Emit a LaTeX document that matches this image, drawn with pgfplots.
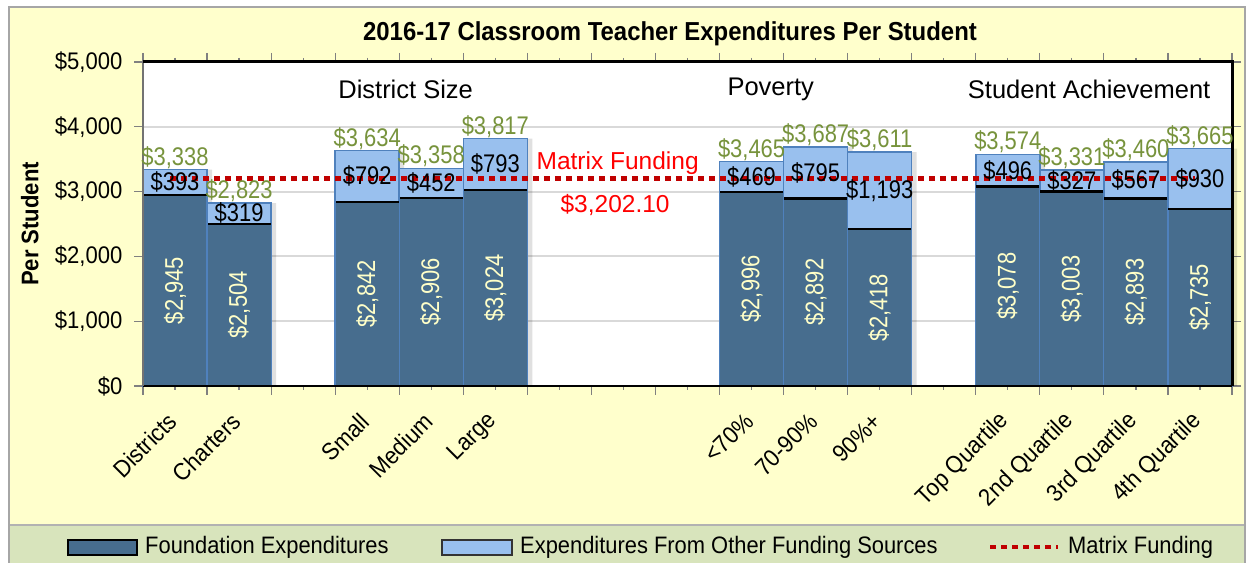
\documentclass[border=0pt]{standalone}
\usepackage{fontspec}
\setmainfont{Liberation Sans}[FakeStretch=0.92]
\newfontfamily\wide{Liberation Sans}
\newfontfamily\narrow{Liberation Sans}[FakeStretch=0.86]
\usepackage{pgfplots}
\pgfplotsset{compat=1.18}
\usepackage{pgfplotstable}

\definecolor{bgy}{HTML}{FFFFCC}
\definecolor{legbg}{HTML}{D8E4BC}
\definecolor{darkb}{HTML}{476D8E}
\definecolor{lightb}{HTML}{99C0EE}
\definecolor{edgeb}{HTML}{4F81BD}
\definecolor{grn}{HTML}{77933C}
\definecolor{mred}{HTML}{C00000}
\definecolor{lred}{HTML}{FF0000}
\definecolor{cream}{HTML}{FFFFC8}

\pgfplotstableread{
x found other total
0 2945 393 3338
1 2504 319 2823
3 2842 792 3634
4 2906 452 3358
5 3024 793 3817
9 2996 469 3465
10 2892 795 3687
11 2418 1193 3611
13 3078 496 3574
14 3003 327 3331
15 2893 567 3460
16 2735 930 3665
}\data

\newcommand{\fs}{\fontsize{24}{27}\selectfont}
\newcommand{\ns}{\narrow\fontsize{25.5}{29}\selectfont}
\newcommand{\gs}{\wide\fontsize{25.5}{29}\selectfont}

\begin{document}
\begin{tikzpicture}[x=1pt,y=1pt]
% page and chart background
\fill[white] (0,0) rectangle (1249,563);
\fill[bgy] (9,0) rectangle (1245,556);
\fill[legbg] (9,0) rectangle (1245,38);
\draw[black!30, line width=1.5pt] (9,38) -- (1245,38);
\draw[black!35, line width=1.5pt] (9,0) -- (9,556) -- (1245,556) -- (1245,0);
% title
\node[font=\fontsize{26}{30}\selectfont\bfseries] at (670,529) {2016-17 Classroom Teacher Expenditures Per Student};

\begin{axis}[
  at={(143pt,177pt)}, anchor=south west,
  scale only axis, width=1089pt, height=324pt,
  xmin=-0.5, xmax=16.5, ymin=0, ymax=5000,
  clip=false,
  axis line style={draw=none},
  axis background/.style={fill=white},
  tick align=outside,
  xtick={-0.5,0.5,...,16.5}, xticklabels={},
  minor x tick num=1,
  major tick length=8pt, minor tick length=4pt,
  x tick style={black!50, line width=1.2pt},
  extra x ticks={0,1,3,4,5,9,10,11,13,14,15,16},
  extra x tick labels={Districts,Charters,Small,Medium,Large,{<70\%},{70-90\%},{90\%+},Top Quartile,2nd Quartile,3rd Quartile,4th Quartile},
  extra x tick style={major tick length=4pt, tick style={black!50, line width=1.2pt}},
  xticklabel style={font=\fs, xshift=0pt, yshift=-25pt, rotate=45, anchor=east},
  ytick={0,1000,2000,3000,4000,5000},
  yticklabels={\$0,{\$1,000},{\$2,000},{\$3,000},{\$4,000},{\$5,000}},
  y tick style={black!50, line width=1.2pt},
  major tick length=9pt,
  yticklabel style={font=\fs, xshift=-8pt},
  ymajorgrids, grid style={black!15, line width=2pt},
  ylabel={Per Student},
  every axis y label/.style={at={(axis description cs:-0.104,0.5)}, rotate=90, anchor=center, font=\fs\bfseries},
  /pgf/number format/.cd, assume math mode=true, fixed, precision=0, 1000 sep={,},
]
% soft shadow behind the bars
\addplot[ybar, bar width=1, bar shift=5pt, fill=black, fill opacity=0.12, draw=none]
  table[x=x, y=total] {\data};
% total (light) bars, then foundation (dark) bars on top
\addplot[ybar, bar width=1, bar shift=0pt, fill=lightb, draw=edgeb, line width=1.5pt]
  table[x=x, y=total] {\data};
\addplot[ybar, bar width=1, bar shift=0pt, fill=darkb, draw=edgeb, line width=1.2pt]
  table[x=x, y=found] {\data};
% black line at top of foundation segment
\addplot[only marks, mark=-, mark size=31.5pt, mark options={black, line width=2.2pt}]
  table[x=x, y=found] {\data};
% baseline
\draw[black, line width=2pt] (rel axis cs:0,0) -- (rel axis cs:1,0);
% plot frame
\draw[black!55, line width=2pt] (rel axis cs:0,0) -- (rel axis cs:0,1);
\draw[black, line width=3pt] (rel axis cs:0,1) -- (rel axis cs:1,1) -- (rel axis cs:1,0);
% matrix funding
\addplot[mred, line width=4.5pt, dash pattern=on 6pt off 5pt] coordinates {(-0.08,3202.1) (15.92,3202.1)};
% labels: foundation (inside, rotated)
\addplot[draw=none, mark=none, point meta=explicit,
  nodes near coords={\$\pgfmathprintnumber{\pgfplotspointmeta}},
  every node near coord/.append style={anchor=center, rotate=90, text=cream, font=\ns}]
  table[x=x, y expr=\thisrow{found}/2, meta=found] {\data};
% labels: other sources (inside light segment)
\addplot[draw=none, mark=none, point meta=explicit,
  nodes near coords={\$\pgfmathprintnumber{\pgfplotspointmeta}},
  every node near coord/.append style={anchor=center, text=black, font=\ns}]
  table[x=x, y expr=\thisrow{found}+\thisrow{other}/2, meta=other] {\data};
% labels: totals
\addplot[draw=none, mark=none, point meta=explicit,
  nodes near coords={\$\pgfmathprintnumber{\pgfplotspointmeta}},
  every node near coord/.append style={anchor=south, inner sep=1pt, text=grn, font=\ns}]
  table[x=x, y=total, meta=total] {\data};
% group and line labels
\node[font=\gs] at (axis cs:3.6,4585) {District Size};
\node[font=\gs] at (axis cs:9.3,4585) {Poverty};
\node[font=\gs] at (axis cs:14.27,4585) {Student Achievement};
\node[font=\wide\fontsize{24.5}{28}\selectfont, text=lred] at (axis cs:6.91,3441) {Matrix Funding};
\node[font=\wide\fontsize{24.5}{28}\selectfont, text=lred] at (axis cs:6.87,2793) {\$3,202.10};
\end{axis}

% legend
\draw[black, line width=2pt, fill=darkb] (68,8) rectangle (137,23);
\node[anchor=west, inner sep=0pt, font=\fontsize{23.8}{27}\selectfont] at (145,16) {Foundation Expenditures};
\draw[black!80, line width=1.5pt, fill=lightb] (442,8) rectangle (512,23);
\node[anchor=west, inner sep=0pt, font=\fontsize{23.8}{27}\selectfont] at (520,16) {Expenditures From Other Funding Sources};
\draw[mred, line width=4.5pt, dash pattern=on 6pt off 5pt] (990,16) -- (1058,16);
\node[anchor=west, inner sep=0pt, font=\fontsize{23.8}{27}\selectfont] at (1068,16) {Matrix Funding};
\end{tikzpicture}
\end{document}
